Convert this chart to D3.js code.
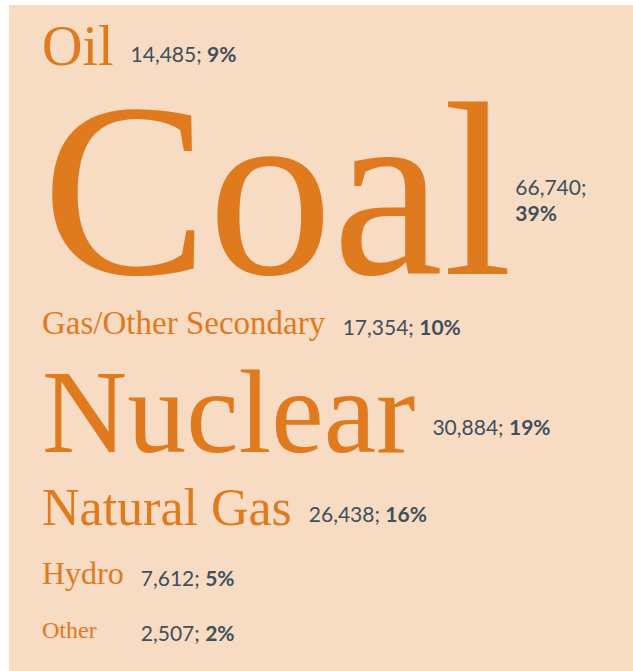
<!DOCTYPE html>
<html>
<head>
<meta charset="utf-8">
<script src="https://cdnjs.cloudflare.com/ajax/libs/d3/7.8.5/d3.min.js"></script>
<style>
  body { margin: 0; background: #ffffff; }
</style>
</head>
<body>
<svg id="wordChartSVG"></svg>
<script>
var chartWidth = 633
var chartHeight = 671
var panel = { left: 9, top: 5 }
var orange = '#E07A1F'
var slate = '#3E505B'

// data
var sources = ['Oil', 'Coal', 'Gas/Other Secondary', 'Nuclear', 'Natural Gas', 'Hydro', 'Other']
var values = [14485, 66740, 17354, 30884, 26438, 7612, 2507]
var shares = [9, 39, 10, 19, 16, 5, 2]

// type size for each word (style, not data)
var wordSizes = [56, 249, 33, 118, 52, 32, 24]

var capRatio = 0.69
var rowGap = 37
var firstBaseline = 65
var textLeft = 42
var labelGap = 17

var svg = d3.select('#wordChartSVG')
    .attr('width', chartWidth)
    .attr('height', chartHeight)

svg.append('rect')
    .attr('x', panel.left)
    .attr('y', panel.top)
    .attr('width', chartWidth - panel.left)
    .attr('height', chartHeight - panel.top)
    .attr('fill', '#F7DBC3')

// baselines stacked from the word sizes
var baselines = []
var y = firstBaseline
for (var i = 0; i < sources.length; i++) {
    if (i > 0) y = y + rowGap + wordSizes[i] * capRatio
    baselines.push(y)
}

var fmt = d3.format(',')

var rows = svg.selectAll('g.row')
    .data(sources)
    .enter()
    .append('g')
    .attr('class', 'row')

rows.append('text')
    .attr('class', 'word')
    .attr('x', textLeft)
    .attr('y', function (d, i) { return baselines[i] })
    .attr('font-family', "'Liberation Serif', 'Times New Roman', serif")
    .attr('font-size', function (d, i) { return wordSizes[i] + 'px' })
    .attr('fill', orange)
    .text(function (d) { return d })

var prevLabelX = 0
rows.each(function (d, i) {
    var row = d3.select(this)
    var box = row.select('text.word').node().getBBox()
    var x = box.x + box.width + labelGap
    // very small words line their label up with the row above
    if (wordSizes[i] < 30) x = Math.max(x, prevLabelX)
    var label = row.append('text')
        .attr('font-family', "Lato, 'Noto Sans', sans-serif")
        .attr('font-size', '21px')
        .attr('fill', slate)
        .attr('dominant-baseline', 'central')
    var t1 = label.append('tspan').text(fmt(values[i]) + '; ')
    var t2 = label.append('tspan').attr('font-weight', 'bold').text(shares[i] + '%')
    label.attr('x', x).attr('y', baselines[i] - wordSizes[i] * 0.22)
    var lw = label.node().getBBox().width
    if (x + lw > chartWidth - 8) {
        // not enough room: put the share on a second line
        x = box.x + box.width + 3
        var mid = baselines[i] - wordSizes[i] * 0.3
        t1.text(fmt(values[i]) + ';').attr('x', x).attr('y', mid - 13)
        t2.attr('x', x).attr('y', mid + 13)
        label.attr('x', x)
    }
    prevLabelX = x
})
</script>
</body>
</html>
